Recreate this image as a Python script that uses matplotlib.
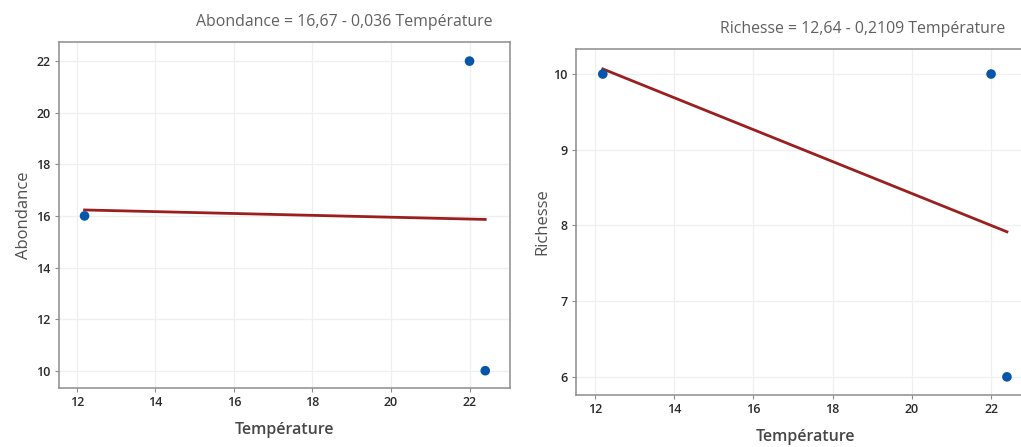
import matplotlib
matplotlib.use("Agg")
import matplotlib.pyplot as plt
import numpy as np

plt.rcParams['font.family'] = ['Open Sans', 'DejaVu Sans']

temperature = [12.2, 22.0, 22.4]
abondance = [16, 22, 10]
richesse = [10, 10, 6]

# fitted coefficients shown in the titles
ab_intercept, ab_slope = 16.67, -0.036
ri_intercept, ri_slope = 12.64, -0.2109

x_ticks = [12, 14, 16, 18, 20, 22]
ab_ticks = [10, 12, 14, 16, 18, 20, 22]
ri_ticks = [6, 7, 8, 9, 10]

POINT = '#0556a8'
LINE = '#9b1f1f'
SPINE = '#8c8c8c'
GRID = '#efefef'

fig = plt.figure(figsize=(10.21, 4.47), dpi=100)
ax1 = fig.add_axes([0.0578, 0.132, 0.4417, 0.774])
ax2 = fig.add_axes([0.564, 0.1163, 0.449, 0.774])


def panel(ax, y, b0, b1, ylabel, yticks, ylim, xlim, ypad):
    xs = np.array([min(temperature), max(temperature)])
    ax.plot(xs, b0 + b1 * xs, color=LINE, lw=2.0, zorder=2)
    ax.scatter(temperature, y, s=48, color=POINT, zorder=3, edgecolors='none')
    ax.set_xlim(*xlim)
    ax.set_ylim(*ylim)
    ax.set_xticks(x_ticks)
    ax.set_yticks(yticks)
    ax.grid(True, color=GRID, lw=0.9)
    ax.set_axisbelow(True)
    for s in ax.spines.values():
        s.set_color(SPINE)
        s.set_linewidth(1.1)
    ax.tick_params(length=3, width=0.8, color=SPINE, labelsize=9,
                   labelcolor='#2a2a2a', pad=3)
    for lab in ax.get_xticklabels() + ax.get_yticklabels():
        lab.set_fontweight('semibold')
    ax.set_xlabel('Température', fontsize=11.5, color='#474747',
                  fontweight='semibold', labelpad=9)
    ax.set_ylabel(ylabel, fontsize=12, color='#505050', labelpad=ypad)


panel(ax1, abondance, ab_intercept, ab_slope, 'Abondance', ab_ticks,
      (9.33, 22.74), (11.55, 23.03), 3)
panel(ax2, richesse, ri_intercept, ri_slope, 'Richesse', ri_ticks,
      (5.76, 10.33), (11.52, 23.09), 2)

fig.text(492 / 1021, 1 - 22 / 447, 'Abondance = 16,67 - 0,036 Température',
         ha='right', va='center', fontsize=11.4, color='#606060')
fig.text(1005 / 1021, 1 - 29 / 447, 'Richesse = 12,64 - 0,2109 Température',
         ha='right', va='center', fontsize=11.4, color='#606060')

fig.savefig('out.png', dpi=100)
